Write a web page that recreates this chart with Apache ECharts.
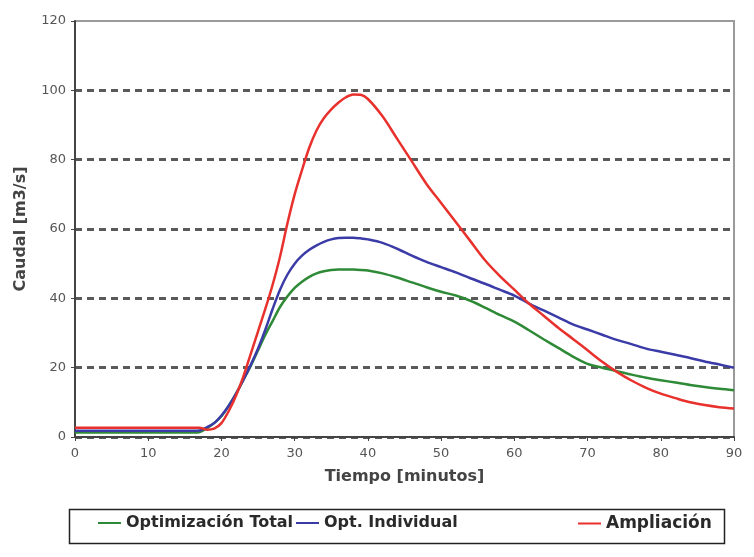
<!DOCTYPE html>
<html>
<head>
<meta charset="utf-8">
<script src="https://cdn.jsdelivr.net/npm/echarts@6/dist/echarts.min.js"></script>
<style>
html,body{margin:0;padding:0;background:#fff;}
#chart{width:754px;height:557px;}
</style>
</head>
<body>
<div id="chart"></div>
<script>
var times = [0,5,10,15,17,18,19,20,21,22,23,24,25,26,27,28,29,30,31,32,33,34,35,36,37,38,39,40,42,44,46,48,50,52,54,56,58,60,62,64,66,68,70,72,74,76,78,80,82,84,86,88,90];
var optTotal = [1.3,1.3,1.3,1.3,1.4,2.5,4,6,9,12.5,16.5,20.5,25,29.5,33.5,37.5,40.5,43,44.8,46.2,47.2,47.8,48.2,48.3,48.3,48.3,48.2,48,47.2,46,44.6,43.2,41.9,40.8,39.3,37.3,35.2,33.3,30.8,28.2,25.7,23.2,21.1,20,19,18,17.1,16.4,15.7,15,14.4,13.9,13.5];
var optIndividual = [1.8,1.8,1.8,1.8,1.9,2.8,4,6.2,9,12.5,16.5,20.8,25.5,31,37,42.5,46.8,50,52.3,54,55.3,56.3,57,57.4,57.5,57.5,57.3,57,56,54.3,52.3,50.5,49,47.5,45.8,44.2,42.5,40.8,38.5,36.5,34.5,32.5,31,29.5,28,26.8,25.5,24.6,23.7,22.8,21.8,20.9,20];
var ampliacion = [2.7,2.7,2.7,2.7,2.7,2.1,2.4,4,7.5,12,17.5,24,30.5,37,44,52,61.5,70,77,83.5,88.5,92,94.5,96.5,98,98.8,98.7,97.5,92.5,86,79.5,73,67.5,62,56.5,51,46.5,42.5,38.5,35,31.5,28.3,25,21.7,18.8,16.3,14.2,12.5,11.2,10,9.2,8.6,8.2];
var xTicks = [0,10,20,30,40,50,60,70,80,90];
var yTicks = [0,20,40,60,80,100,120];
var seriesNames = ['Optimización Total','Opt. Individual','Ampliación'];

function pairs(vals){ return times.map(function(t,i){ return [t, vals[i]]; }); }

var chart = echarts.init(document.getElementById('chart'), null, {renderer:'canvas'});
var font = 'DejaVu Sans';
var legendText = {fontFamily: font, fontSize: 16, color: '#2a2a2a', fontWeight: 'bold'};
function mkLegend(name, left, size){
  return {
    data:[name], left:left, top:515, icon:'rect', itemWidth:23, itemHeight:2,
    itemGap:0, padding:0, textStyle: Object.assign({}, legendText, size ? {fontSize:size} : {}), selectedMode:false
  };
}
var gridColors = yTicks.map(function(v, i){ return i === yTicks.length - 1 ? 'rgba(0,0,0,0)' : '#5a5a5a'; });
chart.setOption({
  animation:false,
  backgroundColor:'#fff',
  grid:{left:75, right:20, top:21, bottom:120, show:true, borderColor:'#9a9a9a', borderWidth:2},
  xAxis:{
    type:'value', min:xTicks[0], max:xTicks[xTicks.length-1], interval:10,
    name:'Tiempo [minutos]', nameLocation:'middle', nameGap:32,
    nameTextStyle:{fontFamily:font, fontSize:16, color:'#444', fontWeight:'bold'},
    axisLine:{show:true, onZero:false, lineStyle:{color:'#444', width:2}},
    axisTick:{show:true, length:4, lineStyle:{color:'#444'}},
    axisLabel:{fontFamily:font, fontSize:13, color:'#555', margin:10},
    splitLine:{show:false}
  },
  yAxis:{
    type:'value', min:yTicks[0], max:yTicks[yTicks.length-1], interval:20,
    name:'Caudal [m3/s]', nameLocation:'middle', nameGap:46, nameRotate:90,
    nameTextStyle:{fontFamily:font, fontSize:16, color:'#444', fontWeight:'bold'},
    axisLine:{show:true, lineStyle:{color:'#444', width:2}},
    axisTick:{show:true, length:4, lineStyle:{color:'#444'}},
    axisLabel:{fontFamily:font, fontSize:13, color:'#555', margin:9},
    splitLine:{show:true, lineStyle:{color:gridColors, width:3, type:[7,5]}}
  },
  legend:[mkLegend(seriesNames[0], 98), mkLegend(seriesNames[1], 296), mkLegend(seriesNames[2], 578, 17)],
  graphic:[{type:'rect', left:67, top:507, shape:{width:655, height:34}, style:{fill:'none', stroke:'#222', lineWidth:1.5}, z:0}],
  series:[
    {name:seriesNames[0], type:'line', data:pairs(optTotal), smooth:0.3, showSymbol:false, lineStyle:{color:'#2e8a36', width:2.5}, itemStyle:{color:'#2e8a36'}},
    {name:seriesNames[1], type:'line', data:pairs(optIndividual), smooth:0.3, showSymbol:false, lineStyle:{color:'#3b3ba8', width:2.5}, itemStyle:{color:'#3b3ba8'}},
    {name:seriesNames[2], type:'line', data:pairs(ampliacion), smooth:0.3, showSymbol:false, lineStyle:{color:'#e8312c', width:2.5}, itemStyle:{color:'#e8312c'}}
  ]
});
</script>
</body>
</html>
